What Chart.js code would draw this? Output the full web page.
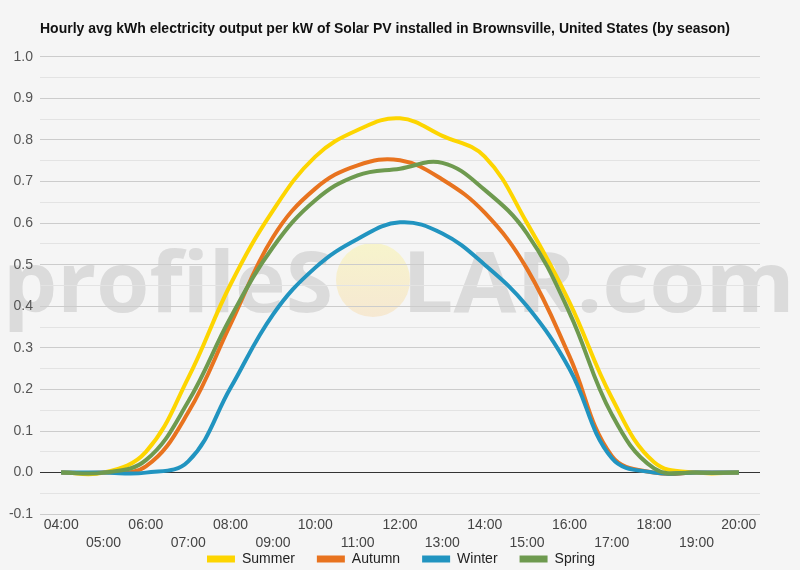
<!DOCTYPE html>
<html>
<head>
  <title>Brownsville Solar PV by season</title>
  <script src="https://cdn.jsdelivr.net/npm/chart.js"></script>
  <style>
    body { margin: 0; background: #f5f5f5; }
  </style>
</head>
<body>
  <canvas id="chartCanvas" width="800" height="570"></canvas>

  <script>
    const hours = ["04:00", "05:00", "06:00", "07:00", "08:00", "09:00", "10:00", "11:00", "12:00",
                   "13:00", "14:00", "15:00", "16:00", "17:00", "18:00", "19:00", "20:00"];
    const summer = [0, 0, 0.05, 0.228, 0.453, 0.63, 0.76, 0.824, 0.852, 0.81, 0.76, 0.6, 0.41, 0.18, 0.025, 0, 0];
    const autumn = [0, 0, 0.015, 0.145, 0.357, 0.566, 0.683, 0.739, 0.751, 0.705, 0.625, 0.49, 0.28, 0.04, 0, 0, 0];
    const winter = [0, 0, 0, 0.027, 0.204, 0.38, 0.493, 0.562, 0.602, 0.575, 0.5, 0.4, 0.25, 0.035, 0, 0, 0];
    const spring = [0, 0, 0.03, 0.171, 0.373, 0.542, 0.655, 0.715, 0.731, 0.745, 0.68, 0.575, 0.385, 0.14, 0.01, 0, 0];
    const seasons = ["Summer", "Autumn", "Winter", "Spring"];
    const colors = ["#fdd500", "#e8731f", "#2194c0", "#6e9a4f"];

    // background + faint watermark, and nudge title/legend into place
    const backdrop = {
      id: "backdrop",
      afterLayout(chart) {
        chart.titleBlock.left = chart.chartArea.left;
        const lg = chart.legend;
        lg.top -= 24;
        lg.bottom -= 24;
        lg.left += 21;
        lg.right += 21;
      },
      beforeDraw(chart) {
        const ctx = chart.ctx;
        ctx.save();
        ctx.fillStyle = "#f5f5f5";
        ctx.fillRect(0, 0, chart.width, chart.height);

        const sun = ctx.createLinearGradient(0, 243, 0, 317);
        sun.addColorStop(0, "#f7f4cc");
        sun.addColorStop(1, "#f6e8d2");
        ctx.fillStyle = sun;
        ctx.beginPath();
        ctx.arc(373, 280, 37, 0, Math.PI * 2);
        ctx.fill();

        ctx.fillStyle = "#dbdbdb";
        ctx.font = "bold 84px 'Open Sans'";
        ctx.textBaseline = "alphabetic";
        const fit = (txt, x0, x1) => {
          const w = ctx.measureText(txt).width;
          ctx.save();
          ctx.translate(x0, 312);
          ctx.scale((x1 - x0) / w, 1);
          ctx.fillText(txt, 0, 0);
          ctx.restore();
        };
        fit("profileS", 3, 333);
        fit("LAR.com", 402, 795);
        ctx.restore();
      }
    };

    const ctx = document.getElementById("chartCanvas").getContext("2d");
    new Chart(ctx, {
      type: "line",
      data: {
        labels: hours,
        datasets: [summer, autumn, winter, spring].map((vals, i) => ({
          label: seasons[i],
          data: vals,
          borderColor: colors[i],
          backgroundColor: colors[i],
          borderWidth: 4,
          pointRadius: 0,
          tension: 0.4,
          order: 3 - i
        }))
      },
      options: {
        responsive: false,
        animation: false,
        layout: { padding: { left: 0, right: 40, top: 0, bottom: -30 } },
        plugins: {
          title: {
            display: true,
            text: "Hourly avg kWh electricity output per kW of Solar PV installed in Brownsville, United States (by season)",
            align: "start",
            color: "#111",
            font: { family: "Arial, 'Liberation Sans'", size: 14, weight: "bold" },
            padding: { top: 21, bottom: 19 }
          },
          legend: {
            position: "bottom",
            labels: {
              color: "#222",
              font: { family: "Arial, 'Liberation Sans'", size: 14 },
              boxWidth: 28,
              boxHeight: 7,
              padding: 22,
              generateLabels(chart) {
                const items = Chart.defaults.plugins.legend.labels.generateLabels(chart);
                items.forEach(it => { it.lineWidth = 0; });
                return items.sort((a, b) => a.datasetIndex - b.datasetIndex);
              }
            }
          },
          tooltip: { enabled: false }
        },
        scales: {
          x: {
            offset: true,
            grid: { display: false, drawTicks: false },
            border: { display: false },
            ticks: {
              autoSkip: false,
              maxRotation: 0,
              padding: 1,
              color: "#444",
              font: { family: "Arial, 'Liberation Sans'", size: 14, lineHeight: 1.35 },
              callback: (v, i) => i % 2 ? ["", hours[i]] : hours[i]
            }
          },
          y: {
            min: -0.1,
            max: 1.0,
            afterFit: s => { s.width = 40; },
            border: { display: false },
            grid: {
              drawTicks: false,
              color: c => {
                const k = Math.round(c.tick.value * 100);
                if (k === 0) return "#333";
                return k % 10 === 0 ? "#cccccc" : "#e3e3e3";
              }
            },
            ticks: {
              stepSize: 0.05,
              autoSkip: false,
              padding: 7,
              color: "#555",
              font: { family: "Arial, 'Liberation Sans'", size: 14 },
              callback: v => {
                const k = Math.round(v * 100);
                return k % 10 === 0 ? (k / 100).toFixed(1) : "";
              }
            }
          }
        }
      },
      plugins: [backdrop]
    });
  </script>
</body>
</html>
